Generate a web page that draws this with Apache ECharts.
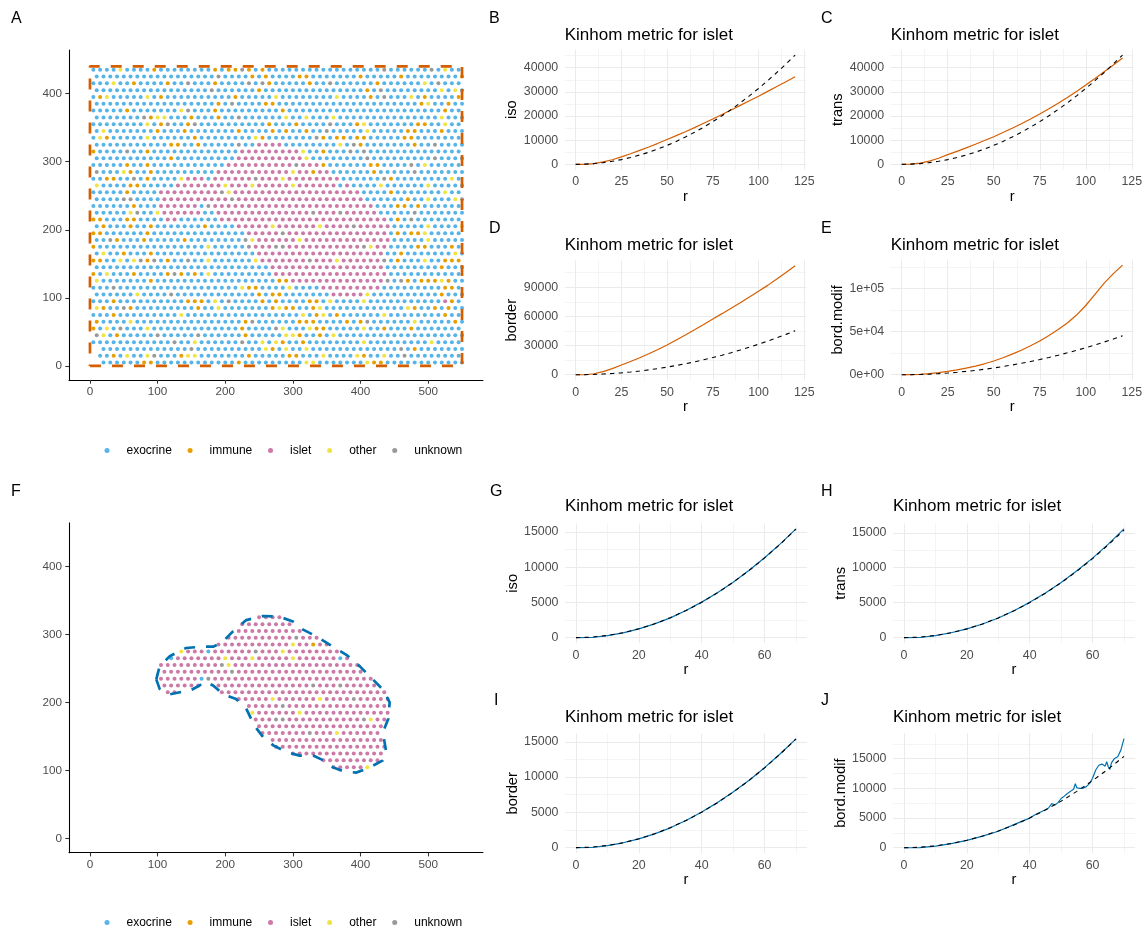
<!DOCTYPE html>
<html>
<head>
<meta charset="utf-8">
<script src="https://cdn.jsdelivr.net/npm/echarts@6.0.0/dist/echarts.min.js"></script>
<style>
html,body{margin:0;padding:0;background:#ffffff;}
#chart{width:1148px;height:930px;}
</style>
</head>
<body>
<div id="chart"></div>
<script>
// ======================= DATA =======================
const cellTypes = ['exocrine', 'immune', 'islet', 'other', 'unknown'];
const cellCodes = { e: 'exocrine', i: 'immune', s: 'islet', o: 'other', u: 'unknown' };

// Cell-type map: one string per row of cells, top row first.
// e=exocrine i=immune s=islet o=other u=unknown .=no cell
const cellMap = [
  "eeeeoeeeei eeeeeeeeie iiuieieeee eeeeeeeeee eeeueeeeee ueoee",
  "eeeeeeeeee eeeeeeeeue eeeieieeee iieeeeeeei eeeeeieeee eeeei",
  "eeeoeeieee eieeueeeie eeeueuieee eeieeueeee eeieeeeeeo eueee",
  "eeeeeeeeee eeeeeeeuee eeeeieeeee eeeeeeeeee ieueeeeeee eoeoe",
  "eioeeeeeoe ieeeeeeeee eieeeeeoee eeeeeeoeee eieueeeoei eeeei",
  "eeeeeeeeee eeeeeeeeie ueeeeiieee eeeeeeeeee eeeeeeeeio eeiee",
  "eeeeeieeee eeeoueeeie eeeeeeeeie eeeeeeeeee eeeeeeeeee eeiee",
  "eeeeeeeuio oeeeieeeie eueeeeeeoe eoeeeoeeee eeeeeeeeee eoeee",
  "eeeeeeeeoe iueeiueeee eeeeeeieee ieeeeueeei oeeeeeeeii eeoee",
  "eoeeeeeeei eeeieeeeee eieeeeieie eieeueeeee oeeeeeiiee eieee",
  "eoieeeeeoe eeeeeieeee eeeeoieeee eeeuieiiei ieeeeeiiee eeeee",
  "eeeeeeeeee eiieeieeee eueessssee eeeeeeoeui eeeeeeeiee ueeee",
  "ieeeeueeie eeeeeeeeee eessssssss soeeieeeue ueeeeeeeee eeeee",
  "eeeeeeeeee eieeeeeeee esssssssss soeeeeeeee ueeeeeeeee ueeee",
  "eeeeeieeie eeeeeeeeee ssssssssss usssieeeee eiieeeeueo eeeee",
  "ueeeoieeie eeeeeeeess ssssssssso ssisseeeee eieeeeeuee eeeee",
  "eeiieeueie eeeosssess ssssusssos ssssssseee eeeuieeeee eeeoe",
  "oeeeeiieee eessssssso sssossssso ssssssesee eeoeeeeeeo eeeee",
  "eeeeeieeee sssssssssu osssssssss ssssssssss eeeeieeeee eeoee",
  "eeeeuueeee ssssssssss usssssssss ssssssssss eeeeeeieeo eeeou",
  "eeeeeeieee sssssseuss ssssssssss ssssssssss sseeeiieie eeeee",
  "eeeeeoueeo sssssseess ssssssssss ssusssusss sseeeeeuee eeeee",
  "iieeeiieee esseeeeees ssssssssss ssssssssss sssseieuee eeeee",
  "eieeeieeie eeeeeeieee esssssosss sssossssus sssseeeeeo eeeeo",
  "iieeeeeeie eeeeeeeeee eeesssssus ssssssssss sssseieiio eeeee",
  "eeuieeeiee eeeieeeeee eeuossssss osssssssss sssseeeeeo eeeee",
  "ieeeeeeeee eeeeeeeoee eeeusssuus ssssssssss uosseeeeii eeeie",
  "eoeeieeeie eeeeeeeeee eeeessssss ssssssssss ssseeieeee eeeoe",
  "iieeoeouiu eieeueeoee eeeeosssss ssusssosss sssueieeeo eeiii",
  "eeeeeeeeee eeeeeeeeee eeeeeessss ssssssssss ssseeeeeee eieee",
  "ieoeeeieee eiuieieoee eeeeeeesss ssssssssss sssseeeeee eeeee",
  "oeeeeeeeie eeeeeeeeee eeeeeeeiis ssssssssss sssueuieii ioiee",
  "eeeueeeeee eeeeeeeeee eeoiieeeeo eeeessssss ssseeeeeee eeiie",
  "eeeeeeoeee eueeeeeeee eeeeieiiee eeeeesssss oeeeeeeeee eieee",
  "eeeieeeeee eeeeiiieoe ueeeeieiee eeiieoeeee oeeeeeeeee eesie",
  "oieeuieeee eeeeeieeoe eeeeeeioii eeioeeeeee eeeeeeoiee ieiee",
  "eeeieeeeee eeeoeeeeee eeeeeeeeee eoeioeieee eeeoeeeeee eeiee",
  "ieeeeoeeee eeeeeeeeee eeiueeeeee iiieeeeiei ueeeeeeoee eeeie",
  "ieoeueeeoe eeeeeeeeee eeieeeeuoe eeoiieeeee oeeieeeiee eeeee",
  "uoeieeeeeu eeeeeueeee eeieeeeeoo ieeieoeeee eeeeeeeeee eeeee",
  "eeeeeeeeee eeueeoeeee eeueeoeoie eieeeeeeee oeeeeeeeee oeeee",
  ".eeeeeeeee eeeeueeeee eeeeeoieoe eoeeeeeeee eeeeeueiee eeeee",
  ".eeieoeeou eeeiooeeee eeeieeeeei ieeeoeeeeo ieeoeeueee eeeee",
  ".eeeeeeiie eeeeeeeeee eieeeeeeee eooeeeeeee oiieeeeeee eeeee"
];

// Study window (panel A) and islet region boundary (panel F), data units
const studyWindow = [[0, 0], [550, 0], [550, 440], [0, 440], [0, 0]];
const isletBoundary = [
  [98,234],[103,253],[118,268],[142,280],[167,282],[182,282],[194,287],[211,304],
  [231,321],[256,327],[280,326],[300,319],[315,307],[335,297],[359,282],[379,270],
  [399,253],[418,234],[433,219],[443,200],[441,176],[433,156],[438,127],[433,115],
  [414,105],[394,97],[374,99],[359,105],[345,115],[330,122],[310,122],[291,127],
  [271,137],[256,149],[243,166],[231,191],[216,205],[197,212],[182,225],[170,231],
  [162,225],[147,217],[133,215],[118,212],[103,220],[98,234]
];
const xTicksSpatial = [0, 100, 200, 300, 400, 500];
const yTicksSpatial = [0, 100, 200, 300, 400];

// Kinhom curves, panels B-E (r up to 120)
const rLarge = [0,5,10,15,20,25,30,35,40,45,50,55,60,65,70,75,80,85,90,95,100,105,110,115,120];
const kTheoLarge = [0,79,314,707,1257,1963,2827,3848,5027,6362,7854,9503,11310,13273,15394,17671,20106,22698,25447,28353,31416,34636,38013,41548,45239];
const kIsoB = [0,0,300,1000,1900,3100,4400,5800,7200,8700,10300,11900,13500,15200,17000,18800,20600,22500,24400,26300,28200,30200,32200,34200,36300];
const kTransC = [0,50,500,1300,2500,4000,5350,6800,8300,9850,11450,13150,14950,16800,18750,20800,23000,25300,27700,30200,32800,35500,38300,41100,44000];
const kBorderD = [0,0,1000,3200,6300,10000,13600,17500,21600,26000,30600,35800,41000,46300,51800,57400,62900,68500,74200,80000,85900,92000,98500,105200,112300];
const kBordModifE = [0,0,400,1200,2400,3900,5600,7600,9900,12700,15900,19700,23900,28500,33600,39200,45600,52500,60200,69400,80500,93500,106500,117500,127500];

// Kinhom curves, panels G-J (r up to 70)
const rSmall = [0,5,10,15,20,25,30,35,40,45,50,55,60,65,70];
const kTheoSmall = [0,79,314,707,1257,1963,2827,3848,5027,6362,7854,9503,11310,13273,15394];
const kIsoG = [0,20,280,690,1240,1950,2810,3850,5040,6380,7870,9520,11330,13300,15420];
const kTransH = [0,20,290,700,1250,1960,2820,3860,5050,6400,7900,9560,11380,13380,15550];
const kBorderI = [0,20,280,690,1240,1950,2810,3850,5040,6380,7870,9520,11330,13300,15400];
const rFineJ = [0,5,10,15,20,25,30,35,40,42,44,45,46,47,48,49,50,51,52,53,54,54.5,55,56,57,58,59,60,61,62,63,64,64.5,65,65.5,66,67,67.5,68,69,70];
const kBordModifJ = [0,20,280,690,1240,1960,2780,3900,5000,5650,6150,6400,6700,7450,7200,7600,8300,8700,9150,9500,9900,10800,10100,10000,10050,10300,10800,11700,13100,13900,14100,13750,14500,13650,13200,14300,15050,14750,15350,16450,18400];

// Tick values / labels
const xTicksLarge = [0, 25, 50, 75, 100, 125];
const xMinorLarge = [12.5, 37.5, 62.5, 87.5, 112.5];
const xTicksSmall = [0, 20, 40, 60];
const xMinorSmall = [10, 30, 50, 70];
const yTicksBC = [0, 10000, 20000, 30000, 40000];
const yMinorBC = [5000, 15000, 25000, 35000, 45000];
const yTicksD = [0, 30000, 60000, 90000];
const yMinorD = [15000, 45000, 75000, 105000];
const yTicksE = [0, 50000, 100000];
const yTickLabelsE = ['0e+00', '5e+04', '1e+05'];
const yMinorE = [25000, 75000, 125000];
const yTicksGJ = [0, 5000, 10000, 15000];
const yMinorGI = [2500, 7500, 12500];
const yMinorJ = [2500, 7500, 12500, 17500];

const titleText = 'Kinhom metric for islet';

// ======================= STYLE / LAYOUT =======================
const FONT = '"Liberation Sans", Arial, Helvetica, sans-serif';
const typeColors = { exocrine: '#56B4E9', immune: '#E69F00', islet: '#CC79A7', other: '#F0E442', unknown: '#999999' };
const cellStep = 10, cellX0 = 5, cellYTop = 435;

// ======================= BUILD =======================
const cells = [];
cellMap.forEach((rowStr, r) => {
  const row = rowStr.replace(/ /g, '');
  for (let c = 0; c < row.length; c++) {
    const t = cellCodes[row[c]];
    if (!t) continue;
    cells.push({ type: t, x: cellX0 + cellStep * c + (r % 2 ? cellStep / 2 : 0), y: cellYTop - cellStep * r });
  }
});
function insidePolygon(x, y, poly) {
  let inside = false;
  for (let i = 0, j = poly.length - 1; i < poly.length; j = i++) {
    const xi = poly[i][0], yi = poly[i][1], xj = poly[j][0], yj = poly[j][1];
    if ((yi > y) !== (yj > y) && x < (xj - xi) * (y - yi) / (yj - yi) + xi) inside = !inside;
  }
  return inside;
}
const cellsIslet = cells.filter(p => insidePolygon(p.x, p.y, isletBoundary));

const zip = (a, b) => a.map((v, i) => [v, b[i]]);
function expand(vals) {
  const lo = Math.min(...vals), hi = Math.max(...vals), d = (hi - lo) * 0.05;
  return [lo - d, hi + d];
}

const grids = [], xAxes = [], yAxes = [], series = [], titles = [];

// ---- spatial panels ----
const spatialPanels = [
  { grid: { left: 69, top: 50, width: 414, height: 330 }, pts: cells, outline: studyWindow, outlineColor: '#D55E00', legendTop: 444.5 },
  { grid: { left: 69, top: 522.7, width: 414, height: 330 }, pts: cellsIslet, outline: isletBoundary, outlineColor: '#0072B2', legendTop: 916.5 }
];
const legends = [];
spatialPanels.forEach(p => {
  const gi = grids.length;
  grids.push(p.grid);
  xAxes.push({
    type: 'value', gridIndex: gi, min: -31, max: 581,
    axisLine: { show: true, onZero: false, lineStyle: { color: '#000', width: 1.07 } },
    axisTick: { show: true, customValues: xTicksSpatial, length: 3.7, lineStyle: { color: '#333', width: 1.07 } },
    axisLabel: { show: true, customValues: xTicksSpatial, color: '#4D4D4D', fontSize: 11.7, margin: 6, formatter: v => String(v) },
    splitLine: { show: false }
  });
  yAxes.push({
    type: 'value', gridIndex: gi, min: -20.6, max: 464,
    axisLine: { show: true, onZero: false, lineStyle: { color: '#000', width: 1.07 } },
    axisTick: { show: true, customValues: yTicksSpatial, length: 3.7, lineStyle: { color: '#333', width: 1.07 } },
    axisLabel: { show: true, customValues: yTicksSpatial, color: '#4D4D4D', fontSize: 11.7, margin: 7, formatter: v => String(v) },
    splitLine: { show: false }
  });
  cellTypes.forEach(t => {
    series.push({
      type: 'scatter', name: t, xAxisIndex: gi, yAxisIndex: gi,
      data: p.pts.filter(q => q.type === t).map(q => [q.x, q.y]),
      symbol: 'circle', symbolSize: 4.0, silent: true,
      itemStyle: { color: typeColors[t], opacity: 1 }, z: 2
    });
  });
  series.push({
    type: 'line', xAxisIndex: gi, yAxisIndex: gi, data: p.outline, silent: true,
    symbol: 'none', showSymbol: false,
    lineStyle: { color: p.outlineColor, width: 2.7, type: [11, 11] }, z: 4
  });
  legends.push({
    data: cellTypes, left: 104.5, top: p.legendTop, orient: 'horizontal', padding: 0,
    icon: 'circle', itemWidth: 26, itemHeight: 5, itemGap: 15.75, selectedMode: false,
    textStyle: { fontSize: 12, color: '#000', fontFamily: FONT, padding: [0, 0, 0, 1.5] }
  });
});

// ---- Kinhom panels ----
const linePanels = [
  { grid: { left: 564.7, top: 49.6, width: 241.4, height: 120.2 }, titleTop: 26.4, r: rLarge, k: kIsoB, rT: rLarge, theo: kTheoLarge, color: '#D55E00', yName: 'iso', xT: xTicksLarge, xM: xMinorLarge, yT: yTicksBC, yM: yMinorBC },
  { grid: { left: 890.7, top: 49.6, width: 242.9, height: 120.2 }, titleTop: 26.4, r: rLarge, k: kTransC, rT: rLarge, theo: kTheoLarge, color: '#D55E00', yName: 'trans', xT: xTicksLarge, xM: xMinorLarge, yT: yTicksBC, yM: yMinorBC },
  { grid: { left: 564.7, top: 260.2, width: 241.4, height: 120.0 }, titleTop: 236.4, r: rLarge, k: kBorderD, rT: rLarge, theo: kTheoLarge, color: '#D55E00', yName: 'border', xT: xTicksLarge, xM: xMinorLarge, yT: yTicksD, yM: yMinorD },
  { grid: { left: 890.7, top: 259.6, width: 242.9, height: 120.6 }, titleTop: 236.4, r: rLarge, k: kBordModifE, rT: rLarge, theo: kTheoLarge, color: '#D55E00', yName: 'bord.modif', xT: xTicksLarge, xM: xMinorLarge, yT: yTicksE, yL: yTickLabelsE, yM: yMinorE },
  { grid: { left: 565, top: 523.5, width: 242, height: 119.6 }, titleTop: 497.8, r: rSmall, k: kIsoG, rT: rSmall, theo: kTheoSmall, color: '#0072B2', yName: 'iso', xT: xTicksSmall, xM: xMinorSmall, yT: yTicksGJ, yM: yMinorGI },
  { grid: { left: 893, top: 523.5, width: 242, height: 119.6 }, titleTop: 497.8, r: rSmall, k: kTransH, rT: rSmall, theo: kTheoSmall, color: '#0072B2', yName: 'trans', xT: xTicksSmall, xM: xMinorSmall, yT: yTicksGJ, yM: yMinorGI },
  { grid: { left: 565, top: 733.5, width: 242, height: 119.6 }, titleTop: 708.8, r: rSmall, k: kBorderI, rT: rSmall, theo: kTheoSmall, color: '#0072B2', yName: 'border', xT: xTicksSmall, xM: xMinorSmall, yT: yTicksGJ, yM: yMinorGI },
  { grid: { left: 893, top: 733.1, width: 242, height: 120.1 }, titleTop: 708.8, r: rFineJ, k: kBordModifJ, rT: rSmall, theo: kTheoSmall, color: '#0072B2', yName: 'bord.modif', xT: xTicksSmall, xM: xMinorSmall, yT: yTicksGJ, yM: yMinorJ }
];
const majorLine = { color: '#EBEBEB', width: 1.07, type: 'solid' };
const minorLine = { color: '#EBEBEB', width: 0.53, type: 'solid' };

linePanels.forEach(p => {
  const gi = grids.length;
  grids.push(p.grid);
  const xr = expand(p.r.concat(p.rT));
  const yr = expand(p.k.concat(p.theo));
  xAxes.push({
    type: 'value', gridIndex: gi, min: xr[0], max: xr[1],
    axisLine: { show: false }, axisTick: { show: false }, splitLine: { show: false },
    axisLabel: { customValues: p.xT, color: '#4D4D4D', fontSize: 12.4, margin: 6, formatter: v => String(v) },
    name: 'r', nameLocation: 'middle', nameGap: 19.5, nameTextStyle: { color: '#000', fontSize: 14.7 }
  });
  yAxes.push({
    type: 'value', gridIndex: gi, min: yr[0], max: yr[1],
    axisLine: { show: false }, axisTick: { show: false }, splitLine: { show: false },
    axisLabel: {
      customValues: p.yT, color: '#4D4D4D', fontSize: 12.4, margin: 6.5,
      formatter: v => p.yL ? p.yL[p.yT.indexOf(v)] : String(v)
    },
    name: p.yName, nameLocation: 'middle', nameGap: 45, nameTextStyle: { color: '#000', fontSize: 14.7 }
  });
  const ml = [];
  p.xM.forEach(v => ml.push({ xAxis: v, lineStyle: minorLine }));
  p.yM.forEach(v => ml.push({ yAxis: v, lineStyle: minorLine }));
  p.xT.forEach(v => ml.push({ xAxis: v, lineStyle: majorLine }));
  p.yT.forEach(v => ml.push({ yAxis: v, lineStyle: majorLine }));
  series.push({
    type: 'line', xAxisIndex: gi, yAxisIndex: gi, data: zip(p.r, p.k), silent: true,
    symbol: 'none', showSymbol: false, lineStyle: { color: p.color, width: 1.2 }, z: 3,
    markLine: { silent: true, symbol: ['none', 'none'], label: { show: false }, z: 1, animation: false,
      emphasis: { disabled: true }, data: ml }
  });
  series.push({
    type: 'line', xAxisIndex: gi, yAxisIndex: gi, data: zip(p.rT, p.theo), silent: true,
    symbol: 'none', showSymbol: false, lineStyle: { color: '#000', width: 1.1, type: [4.3, 4.3] }, z: 4
  });
  titles.push({
    text: titleText, left: p.grid.left, top: p.titleTop, padding: 0,
    textStyle: { fontSize: 17, lineHeight: 17, color: '#000', fontWeight: 'normal', fontFamily: FONT }
  });
});

// panel letters
const panelLetters = [
  ['A', 11, 10.4], ['B', 489, 10.4], ['C', 821, 10.4], ['D', 489, 221], ['E', 821, 221],
  ['F', 11, 483.7], ['G', 490, 483.7], ['H', 821, 483.7], ['I', 494, 693], ['J', 821, 693]
];
panelLetters.forEach(([t, x, y]) => titles.push({
  text: t, left: x, top: y, padding: 0,
  textStyle: { fontSize: 16, lineHeight: 16, color: '#000', fontWeight: 'normal', fontFamily: FONT }
}));

const chart = echarts.init(document.getElementById('chart'), null, { renderer: 'canvas' });
chart.setOption({
  animation: false,
  backgroundColor: '#ffffff',
  textStyle: { fontFamily: FONT },
  grid: grids, xAxis: xAxes, yAxis: yAxes,
  title: titles, legend: legends, series: series
});
</script>
</body>
</html>
